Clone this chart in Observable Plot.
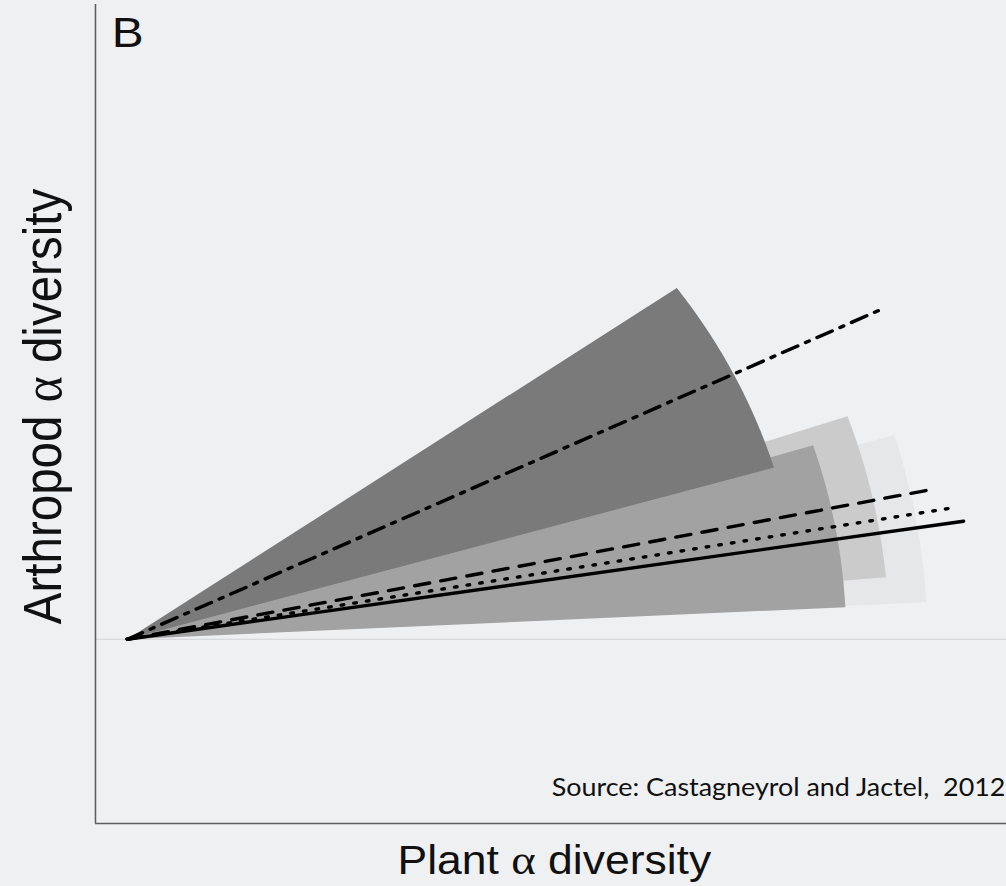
<!DOCTYPE html>
<html><head><meta charset="utf-8">
<script src="https://cdn.jsdelivr.net/npm/d3@7"></script>
<script src="https://cdn.jsdelivr.net/npm/@observablehq/plot@0.6"></script>
<style>
html,body{margin:0;padding:0;background:#eff0f2;}
#chart{width:1006px;height:886px;overflow:hidden;}
</style></head><body><div id="chart"></div>
<script>
// Data space: each axis in fractions of the (square) panel; fans start at (0,0)
const xDomain = [-0.035, 0.965];
const yDomain = [-0.225, 0.775];

// Confidence fans: angular range (degrees) and length
const fanNames   = ["faint", "light", "medium", "dark"];
const fanLowDeg  = [2.95, 5.2, 2.84, 16.45];
const fanHighDeg = [16.5, 19.0, 17.46, 35.42];
const fanRadius  = [0.878, 0.836, 0.789, 0.740];

// Mean relationships: end points of each line (start at origin)
const trendNames = ["dashdot", "dashed", "dotted", "solid"];
const trendEndX  = [0.8255, 0.8847, 0.9034, 0.9177];
const trendEndY  = [0.4017, 0.1832, 0.1600, 0.1441];

const panelLabel  = ["B"];
const xLabel      = ["Plant α diversity"];
const yLabel      = ["Arthropod α diversity"];
const sourceLabel = ["Source: Castagneyrol and Jactel,  2012"];

// styles
const fanFill = {faint: "#e6e7e9", light: "#cbcbcb", medium: "#a2a2a2", dark: "#7a7a7a"};
const trendStyle = {
  dashdot: {strokeDasharray: "15,8,3.5,8"},
  dashed:  {strokeDasharray: "13.5,10.5"},
  dotted:  {strokeDasharray: "2,9.5", strokeLinecap: "round"},
  solid:   {}
};

const fans = fanNames.map((name, i) => {
  const pts = [{x: 0, y: 0}];
  const n = 80;
  for (let k = 0; k <= n; k++) {
    const a = (fanLowDeg[i] + (fanHighDeg[i] - fanLowDeg[i]) * k / n) * Math.PI / 180;
    pts.push({x: fanRadius[i] * Math.cos(a), y: fanRadius[i] * Math.sin(a)});
  }
  pts.push({x: 0, y: 0});
  return {name, pts};
});

const trends = trendNames.map((name, i) => ({name, pts: [{x: 0, y: 0}, {x: trendEndX[i], y: trendEndY[i]}]}));

const W = 905, H = 886;
const chart = Plot.plot({
  width: W, height: H,
  marginLeft: 85.4, marginRight: 0, marginTop: 4, marginBottom: 63,
  x: {domain: xDomain, axis: null},
  y: {domain: yDomain, axis: null},
  style: {background: "transparent", fontFamily: "Liberation Sans, Arial, sans-serif", color: "#111"},
  marks: [
    Plot.ruleY([0], {stroke: "#d2d3d5", strokeWidth: 1}),
    ...fans.map(f => Plot.line(f.pts, {x: "x", y: "y", fill: fanFill[f.name], stroke: "none", curve: "linear"})),
    ...trends.map(t => Plot.line(t.pts, Object.assign({x: "x", y: "y", stroke: "#000", strokeWidth: 3.4}, trendStyle[t.name]))),
    Plot.ruleX([xDomain[0]], {stroke: "#5e5e5e", strokeWidth: 1.4}),
    Plot.ruleY([yDomain[0]], {stroke: "#5e5e5e", strokeWidth: 1.4}),
    Plot.text(panelLabel, {text: d => d, frameAnchor: "top-left", dx: 14.6, dy: 42, textAnchor: "start", lineAnchor: "bottom", fontSize: 43, fill: "#111"}),
    Plot.text(xLabel, {text: d => d, frameAnchor: "bottom", dx: 3, dy: 50, textAnchor: "middle", lineAnchor: "bottom", fontSize: 40, fill: "#111"}),
    Plot.text(yLabel, {text: d => d, frameAnchor: "left", dx: -46.5, dy: -7.5, rotate: -90, textAnchor: "middle", lineAnchor: "middle", fontSize: 47.5, fill: "#111"}),
    Plot.text(sourceLabel, {text: d => d, frameAnchor: "bottom-right", dx: -1, dy: -28, textAnchor: "end", lineAnchor: "bottom", fontSize: 24.2, fontFamily: "Lato, sans-serif", fill: "#111"})
  ]
});

// Greek alpha drawn in a serif face, as in the reference
d3.select(chart).selectAll("text").each(function () {
  const t = this.textContent;
  if (!t.includes("α")) return;
  const el = d3.select(this);
  el.text(null);
  t.split(/(α)/).forEach(part => {
    if (!part) return;
    const ts = el.append("tspan").text(part);
    if (part === "α") ts.attr("font-family", "Liberation Serif, serif").attr("font-size", "1.05em");
  });
});

// The reference figure is stretched horizontally; reproduce that
chart.setAttribute("width", 1006);
chart.setAttribute("height", H);
chart.setAttribute("preserveAspectRatio", "none");
chart.style.width = "1006px";
chart.style.height = H + "px";
chart.style.maxWidth = "none";
document.getElementById("chart").appendChild(chart);
</script></body></html>
